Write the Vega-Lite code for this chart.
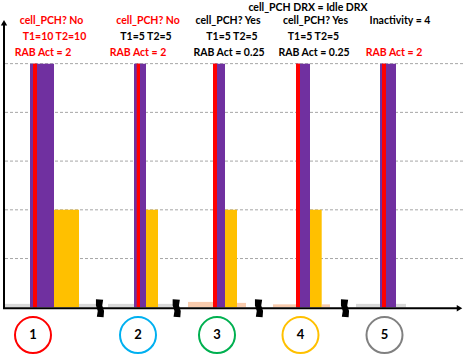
{
  "$schema": "https://vega.github.io/schema/vega-lite/v6.json",
  "width": 466,
  "height": 357,
  "autosize": {"type": "fit", "contains": "padding"},
  "padding": 0,
  "config": {"view": {"stroke": null}, "text": {"font": "Lato", "fontWeight": "bold"}},
  "datasets": {
    "grid": [{"y": 1, "x": 5, "x2": 465}, {"y": 2, "x": 5, "x2": 465}, {"y": 3, "x": 5, "x2": 465}, {"y": 4, "x": 5, "x2": 465}, {"y": 5, "x": 5, "x2": 465}],
    "bars": [
      {"group": 1, "series": "idle", "x": 5, "x2": 30, "y": 0.07, "base": 0},
      {"group": 1, "series": "idle", "x": 79, "x2": 97, "y": 0.07, "base": 0},
      {"group": 1, "series": "total", "x": 30, "x2": 54, "y": 5, "base": 0},
      {"group": 1, "series": "marker", "x": 33, "x2": 37, "y": 5, "base": 0},
      {"group": 1, "series": "half", "x": 54, "x2": 79, "y": 2, "base": 0},
      {"group": 2, "series": "idle", "x": 108, "x2": 134, "y": 0.07, "base": 0},
      {"group": 2, "series": "idle", "x": 158, "x2": 173, "y": 0.07, "base": 0},
      {"group": 2, "series": "total", "x": 134, "x2": 146, "y": 5, "base": 0},
      {"group": 2, "series": "marker", "x": 136.7, "x2": 140, "y": 5, "base": 0},
      {"group": 2, "series": "half", "x": 146, "x2": 158, "y": 2, "base": 0},
      {"group": 3, "series": "low", "x": 188, "x2": 213, "y": 0.11, "base": 0},
      {"group": 3, "series": "low", "x": 237, "x2": 246, "y": 0.09, "base": 0},
      {"group": 3, "series": "total", "x": 213, "x2": 225, "y": 5, "base": 0},
      {"group": 3, "series": "marker", "x": 213, "x2": 217, "y": 5, "base": 0},
      {"group": 3, "series": "half", "x": 225, "x2": 237, "y": 2, "base": 0},
      {"group": 4, "series": "low", "x": 273, "x2": 296, "y": 0.06, "base": 0},
      {"group": 4, "series": "low", "x": 321.7, "x2": 330, "y": 0.06, "base": 0},
      {"group": 4, "series": "total", "x": 296, "x2": 310, "y": 5, "base": 0},
      {"group": 4, "series": "marker", "x": 296, "x2": 300, "y": 5, "base": 0},
      {"group": 4, "series": "half", "x": 310, "x2": 321.7, "y": 2, "base": 0},
      {"group": 5, "series": "idle", "x": 356, "x2": 380, "y": 0.07, "base": 0},
      {"group": 5, "series": "idle", "x": 396, "x2": 406, "y": 0.07, "base": 0},
      {"group": 5, "series": "total", "x": 380, "x2": 396, "y": 5, "base": 0},
      {"group": 5, "series": "marker", "x": 382, "x2": 386, "y": 5, "base": 0}
    ],
    "axes": [
      {"name": "vertical", "x": 4, "x2": 4, "y": -0.02, "y2": 5.8},
      {"name": "horizontal", "x": 3, "x2": 458, "y": -0.02, "y2": -0.02}
    ],
    "arrows": [
      {"name": "up", "x": 4, "y": 5.84},
      {"name": "right", "x": 459.5, "y": -0.02}
    ],
    "breaks": [{"x": 100, "y": -0.02}, {"x": 176.7, "y": -0.02}, {"x": 259, "y": -0.02}, {"x": 345, "y": -0.02}],
    "circles": [
      {"label": "1", "key": "c1", "x": 33, "y": -0.571},
      {"label": "2", "key": "c2", "x": 138, "y": -0.571},
      {"label": "3", "key": "c3", "x": 217, "y": -0.571},
      {"label": "4", "key": "c4", "x": 300.5, "y": -0.571},
      {"label": "5", "key": "c5", "x": 384.5, "y": -0.571}
    ],
    "notes": [
      {"text": "cell_PCH DRX = Idle DRX", "x": 308, "y": 6.15, "tone": "plain"},
      {"text": "cell_PCH? No", "x": 51.5, "y": 5.878, "tone": "alert"},
      {"text": "T1=10  T2=10", "x": 54.5, "y": 5.551, "tone": "alert"},
      {"text": "RAB Act = 2", "x": 43, "y": 5.224, "tone": "alert"},
      {"text": "cell_PCH? No", "x": 148, "y": 5.878, "tone": "alert"},
      {"text": "T1=5 T2=5", "x": 146, "y": 5.551, "tone": "plain"},
      {"text": "RAB Act = 2", "x": 138, "y": 5.224, "tone": "alert"},
      {"text": "cell_PCH? Yes", "x": 228, "y": 5.878, "tone": "plain"},
      {"text": "T1=5 T2=5", "x": 232, "y": 5.551, "tone": "plain"},
      {"text": "RAB Act = 0.25", "x": 229, "y": 5.224, "tone": "plain"},
      {"text": "cell_PCH? Yes", "x": 315.5, "y": 5.878, "tone": "plain"},
      {"text": "T1=5 T2=5", "x": 313.5, "y": 5.551, "tone": "plain"},
      {"text": "RAB Act = 0.25", "x": 314, "y": 5.224, "tone": "plain"},
      {"text": "Inactivity = 4", "x": 400, "y": 5.878, "tone": "plain"},
      {"text": "RAB Act = 2", "x": 394, "y": 5.224, "tone": "alert"}
    ]
  },
  "encoding": {
    "x": {"field": "x", "type": "quantitative", "scale": {"domain": [0, 466], "nice": false, "zero": false}, "axis": null},
    "y": {"field": "y", "type": "quantitative", "scale": {"domain": [-0.9796, 6.3061], "nice": false, "zero": false}, "axis": null}
  },
  "layer": [
    {
      "data": {"name": "grid"},
      "mark": {"type": "rule", "color": "#a6a6a6", "strokeDash": [3, 2], "strokeWidth": 1},
      "encoding": {"x2": {"field": "x2"}}
    },
    {
      "data": {"name": "bars"},
      "mark": {"type": "rect"},
      "encoding": {
        "x2": {"field": "x2"},
        "y2": {"field": "base"},
        "color": {"field": "series", "type": "nominal", "legend": null,
          "scale": {"domain": ["total", "marker", "half", "low", "idle", "c1", "c2", "c3", "c4", "c5", "alert", "plain"],
                    "range": ["#7030a0", "#ff0000", "#ffc000", "#f8cbad", "#d9d9d9", "#ff0000", "#00b0f0", "#00b050", "#ffc000", "#808080", "#ff0000", "#000000"]}}
      }
    },
    {
      "data": {"name": "axes"},
      "mark": {"type": "rule", "color": "#000000", "strokeWidth": 2},
      "encoding": {"x2": {"field": "x2"}, "y2": {"field": "y2"}}
    },
    {
      "data": {"name": "arrows"},
      "transform": [{"filter": "datum.name === 'up'"}],
      "mark": {"type": "point", "shape": "triangle-up", "filled": true, "color": "#000000", "size": 40, "opacity": 1},
      "encoding": {}
    },
    {
      "data": {"name": "arrows"},
      "transform": [{"filter": "datum.name === 'right'"}],
      "mark": {"type": "point", "shape": "triangle-right", "filled": true, "color": "#000000", "size": 40, "opacity": 1},
      "encoding": {}
    },
    {
      "data": {"name": "breaks"},
      "mark": {"type": "point", "filled": true, "color": "#000000", "opacity": 1, "size": 324,
               "shape": "M-0.45,-1 L0.35,-0.95 L0.25,-0.3 L0.45,0.3 L0.4,1 L-0.35,0.95 L-0.25,0.3 L-0.45,-0.3 Z"},
      "encoding": {}
    },
    {
      "data": {"name": "circles"},
      "mark": {"type": "point", "shape": "circle", "filled": false, "size": 1296, "strokeWidth": 2, "opacity": 1},
      "encoding": {
        "color": {"field": "key", "type": "nominal", "legend": null}
      }
    },
    {
      "data": {"name": "circles"},
      "mark": {"type": "text", "fontSize": 13, "color": "#000000", "baseline": "middle", "align": "center"},
      "encoding": {
        "text": {"field": "label"}
      }
    },
    {
      "data": {"name": "notes"},
      "mark": {"type": "text", "fontSize": 10.5, "baseline": "middle", "align": "center"},
      "encoding": {
        "text": {"field": "text"},
        "color": {"field": "tone", "type": "nominal", "legend": null}
      }
    }
  ]
}
